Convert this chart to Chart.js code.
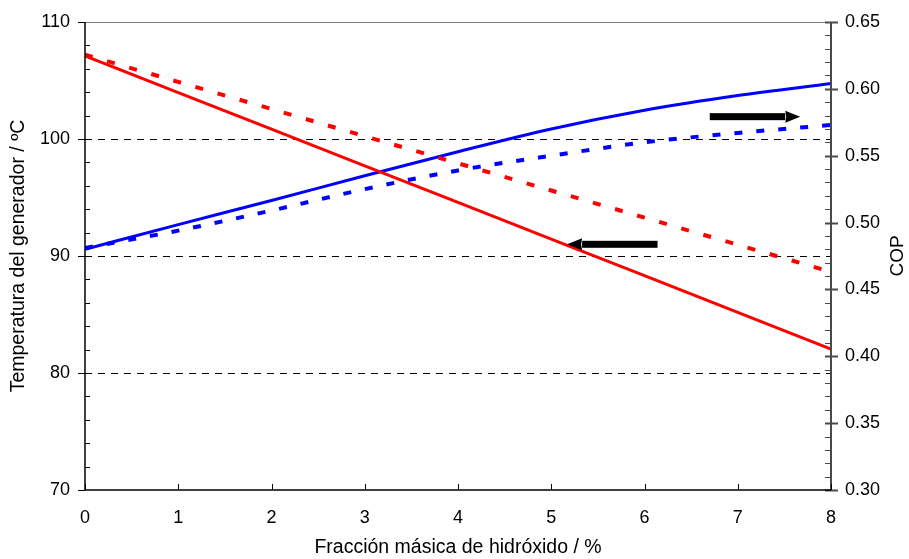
<!DOCTYPE html>
<html>
<head>
<meta charset="utf-8">
<script src="https://cdn.jsdelivr.net/npm/chart.js@4.4.0/dist/chart.umd.min.js"></script>
<style>
  html, body { margin: 0; padding: 0; background: #fff; }
  #wrap { width: 909px; height: 559px; }
</style>
</head>
<body>
<div id="wrap"><canvas id="grafico"></canvas></div>
<script>
// datos
const fraccion = [0, 1, 2, 3, 4, 5, 6, 7, 8];
const tempContinua = [107.1, 103.97, 100.84, 97.71, 94.58, 91.45, 88.32, 85.19, 82.05];
const tempDiscontinua = [107.2, 104.88, 102.56, 100.24, 97.92, 95.6, 93.28, 90.96, 88.64];
const copContinuo = [0.480, 0.4985, 0.5165, 0.535, 0.553, 0.570, 0.584, 0.595, 0.604];
const copDiscontinuo = [0.481, 0.494, 0.509, 0.525, 0.539, 0.550, 0.560, 0.567, 0.573];
const tempMenores = [72, 74, 76, 78, 82, 84, 86, 88, 92, 94, 96, 98, 102, 104, 106, 108];
const copMenores = [0.31, 0.32, 0.33, 0.34, 0.36, 0.37, 0.38, 0.39, 0.41, 0.42, 0.43, 0.44,
  0.46, 0.47, 0.48, 0.49, 0.51, 0.52, 0.53, 0.54, 0.56, 0.57, 0.58, 0.59, 0.61, 0.62, 0.63, 0.64];
const copMayores = [0.30, 0.35, 0.40, 0.45, 0.50, 0.55, 0.60, 0.65];
const tempMayores = [70, 80, 90, 100, 110];
const lineasGuia = [80, 90, 100];
// flechas: desde, hasta, valor y eje
const flechaTemp = [6.14, 5.17, 91.0];
const flechaCop = [6.70, 7.67, 0.5792];

const fuente = "'Liberation Sans', Arial, sans-serif";
Chart.defaults.font.family = fuente;
Chart.defaults.color = '#000';

function linea(ctx, x1, y1, x2, y2) {
  ctx.beginPath();
  ctx.moveTo(x1, y1);
  ctx.lineTo(x2, y2);
  ctx.stroke();
}

function flecha(ctx, xa, xb, y) {
  const dir = xb > xa ? 1 : -1;
  const cabeza = 15;
  ctx.fillStyle = '#000';
  ctx.fillRect(Math.min(xa, xb - dir * cabeza), y - 3.5, Math.abs(xb - dir * cabeza - xa), 7);
  ctx.beginPath();
  ctx.moveTo(xb, y);
  ctx.lineTo(xb - dir * cabeza, y - 6);
  ctx.lineTo(xb - dir * (cabeza - 1), y);
  ctx.lineTo(xb - dir * cabeza, y + 6);
  ctx.closePath();
  ctx.fill();
}

// fija el tamaño del eje y quita el relleno que Chart.js añade por las etiquetas
function fijar(ancho, alto) {
  return s => {
    if (ancho) s.width = ancho;
    if (alto) s.height = alto;
    s.paddingTop = 0;
    s.paddingBottom = 0;
    s.paddingLeft = 0;
    s.paddingRight = 0;
  };
}

const ejesPlugin = {
  id: 'ejes',
  afterDraw(chart) {
    const { ctx, chartArea: a, scales: { x, y, y1 } } = chart;
    ctx.save();
    ctx.lineCap = 'butt';

    ctx.strokeStyle = '#808080';
    ctx.lineWidth = 1;
    linea(ctx, a.left, a.top + 0.5, a.right, a.top + 0.5);

    ctx.strokeStyle = '#4a4a4a';
    ctx.lineWidth = 2;
    linea(ctx, a.right, a.top, a.right, a.bottom);
    copMayores.forEach(v => {
      const py = Math.round(y1.getPixelForValue(v)) + 0.5;
      linea(ctx, a.right - 6, py, a.right + 7, py);
    });
    ctx.lineWidth = 1;
    copMenores.forEach(v => {
      const py = Math.round(y1.getPixelForValue(v)) + 0.5;
      linea(ctx, a.right - 6, py, a.right, py);
    });

    ctx.strokeStyle = '#000';
    ctx.lineWidth = 1.5;
    linea(ctx, a.left, a.top, a.left, a.bottom);
    linea(ctx, a.left, a.bottom, a.right, a.bottom);
    ctx.lineWidth = 1;
    tempMayores.forEach(v => {
      const py = Math.round(y.getPixelForValue(v)) + 0.5;
      linea(ctx, a.left - 7, py, a.left, py);
    });
    tempMenores.forEach(v => {
      const py = Math.round(y.getPixelForValue(v)) + 0.5;
      linea(ctx, a.left, py, a.left + 5, py);
    });
    fraccion.forEach(v => {
      const px = Math.round(x.getPixelForValue(v)) + 0.5;
      linea(ctx, px, a.bottom, px, a.bottom - 6);
    });

    flecha(ctx, x.getPixelForValue(flechaTemp[0]), x.getPixelForValue(flechaTemp[1]), y.getPixelForValue(flechaTemp[2]));
    flecha(ctx, x.getPixelForValue(flechaCop[0]), x.getPixelForValue(flechaCop[1]), y1.getPixelForValue(flechaCop[2]));

    // titulo del eje derecho, leido de abajo hacia arriba
    ctx.translate(898, (a.top + a.bottom) / 2);
    ctx.rotate(-Math.PI / 2);
    ctx.font = '19px ' + fuente;
    ctx.fillStyle = '#000';
    ctx.textAlign = 'center';
    ctx.textBaseline = 'middle';
    ctx.fillText(y1.options.title.text, 0, 0);
    ctx.restore();
  }
};

new Chart(document.getElementById('grafico'), {
  type: 'line',
  data: {
    labels: fraccion,
    datasets: [
      { data: tempContinua, yAxisID: 'y', borderColor: '#ff0000', borderWidth: 3 },
      { data: tempDiscontinua, yAxisID: 'y', borderColor: '#ff0000', borderWidth: 4, borderDash: [8, 15] },
      { data: copContinuo, yAxisID: 'y1', borderColor: '#0000ff', borderWidth: 3, cubicInterpolationMode: 'monotone' },
      { data: copDiscontinuo, yAxisID: 'y1', borderColor: '#0000ff', borderWidth: 4, borderDash: [8, 14], cubicInterpolationMode: 'monotone' }
    ].map(d => ({ ...d, data: d.data.map((v, i) => ({ x: fraccion[i], y: v })), pointRadius: 0, fill: false }))
  },
  options: {
    responsive: true,
    maintainAspectRatio: false,
    animation: false,
    layout: { padding: { top: 22, left: 0, right: 0, bottom: 0 } },
    plugins: { legend: { display: false }, tooltip: { enabled: false } },
    scales: {
      x: {
        type: 'linear', min: 0, max: 8,
        afterFit: fijar(0, 69),
        grid: { display: false, drawTicks: false },
        border: { display: false },
        ticks: { stepSize: 1, padding: 17, font: { size: 18 } },
        title: { display: true, text: 'Fracción másica de hidróxido / %', font: { size: 19.5 }, padding: { top: 0, bottom: 0 } }
      },
      y: {
        position: 'left', min: 70, max: 110,
        afterFit: fijar(85, 0),
        grid: {
          drawTicks: false,
          color: c => lineasGuia.includes(c.tick.value) ? '#000' : 'rgba(0,0,0,0)',
          lineWidth: 1
        },
        border: { display: false, dash: [7, 6] },
        ticks: { stepSize: 10, padding: 15, font: { size: 18 } },
        title: { display: true, text: 'Temperatura del generador / ºC', font: { size: 19.5 }, padding: { top: 7, bottom: 0 } }
      },
      y1: {
        position: 'right', min: 0.30, max: 0.65,
        afterFit: fijar(78, 0),
        grid: { display: false, drawTicks: false },
        border: { display: false },
        ticks: { stepSize: 0.05, padding: 14, font: { size: 18 }, callback: v => v.toFixed(2) },
        title: { display: false, text: 'COP' }
      }
    }
  },
  plugins: [ejesPlugin]
});
</script>
</body>
</html>
